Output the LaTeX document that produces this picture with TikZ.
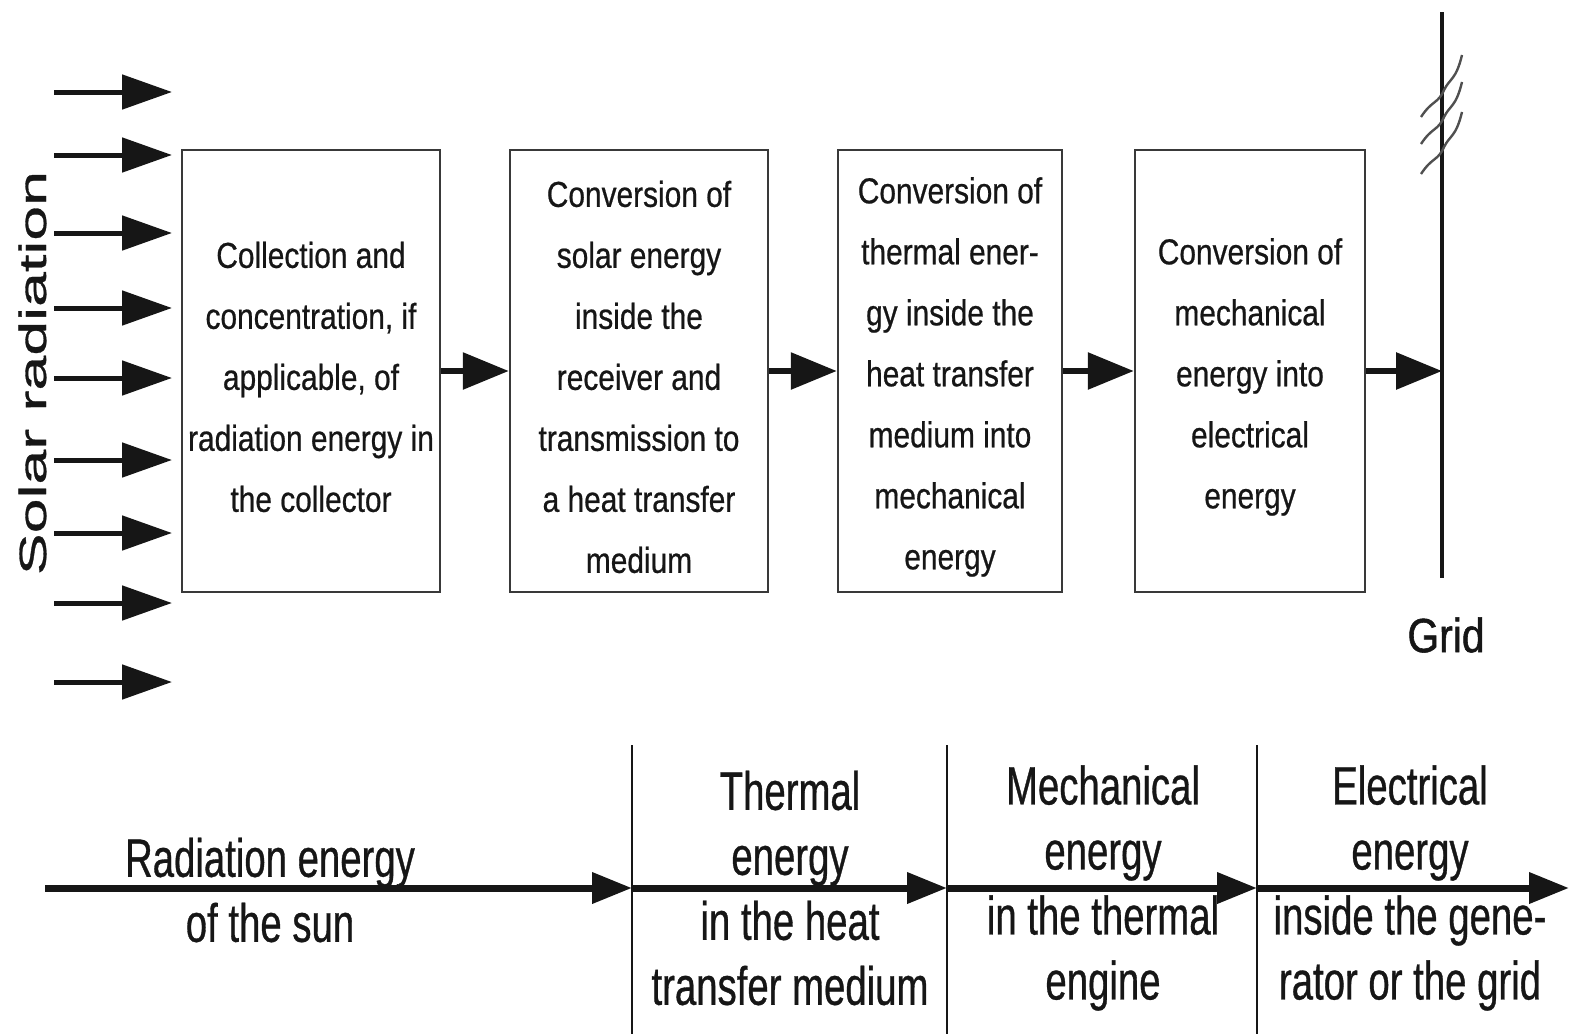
\documentclass[tikz,border=0pt]{standalone}
\usepackage{fontspec}
\setmainfont{Liberation Sans}
\newfontfamily\narrowA[FakeStretch=0.83,FakeBold=0.6]{Liberation Sans}
\newfontfamily\narrowB[FakeStretch=0.71,FakeBold=0.6]{Liberation Sans}
\newfontfamily\narrowG[FakeStretch=0.85,FakeBold=1.2]{Liberation Sans}
\newfontfamily\wideA[FakeStretch=1.65,FakeBold=0.8]{Liberation Sans}
\usetikzlibrary{arrows.meta}
\definecolor{ink}{RGB}{22,22,22}
\newcommand{\tstrut}{\rule{0pt}{38pt}}
\tikzset{
  box/.style={draw=ink!85, line width=2.5pt, inner sep=0pt, align=center, text=ink,
    minimum height=442pt, font=\narrowA\fontsize{36}{61}\selectfont},
  bigarr/.style={draw=ink, line width=6pt, -{Triangle[length=46pt,width=36pt]}},
  sarr/.style={draw=ink, line width=5pt, -{Triangle[length=50pt,width=34pt]}},
  barr/.style={draw=ink, line width=7pt, -{Triangle[length=40pt,width=30pt]}},
  divider/.style={draw=ink, line width=2pt},
  btext/.style={align=center, text=ink, inner sep=0pt, font=\narrowB\fontsize{54}{65}\selectfont},
}
\begin{document}
\begin{tikzpicture}[x=1pt,y=-1pt]
\useasboundingbox (0,0) rectangle (1569,1034);
% boxes
\node[box, minimum width=258pt] (b1) at (311,371) {\tstrut Collection and\\concentration, if\\applicable, of\\radiation energy in\\the collector};
\node[box, minimum width=258pt] (b2) at (639,371) {\tstrut Conversion of\\solar energy\\inside the\\receiver and\\transmission to\\a heat transfer\\medium};
\node[box, minimum width=224pt] (b3) at (950,371) {\tstrut Conversion of\\thermal ener-\\gy inside the\\heat transfer\\medium into\\mechanical\\energy};
\node[box, minimum width=230pt] (b4) at (1250,371) {\tstrut Conversion of\\mechanical\\energy into\\electrical\\energy};
% grid
\coordinate (gtop) at (1442,12);
\coordinate (gbot) at (1442,578);
\coordinate (gin) at (1442,371);
\draw[draw=ink, line width=4pt] (gtop) -- (gbot);
\foreach \h in {0,27,57} {
  \draw[draw=ink!75, line width=2.4pt] (1421,117+\h) .. controls (1432,100+\h) and (1438,104+\h) .. (1444,90+\h) .. controls (1450,78+\h) and (1456,80+\h) .. (1462,55+\h);
}
\node[text=ink, font=\narrowG\fontsize{48}{55}\selectfont] (grid) at (1446,635) {Grid};
% connectors
\draw[bigarr] (b1.east) -- (b2.west);
\draw[bigarr] (b2.east) -- (b3.west);
\draw[bigarr] (b3.east) -- (b4.west);
\draw[bigarr] (b4.east) -- (gin);
% solar radiation
\node[rotate=90, anchor=base, inner sep=0pt, text=ink, font=\wideA\fontsize{38}{44}\selectfont] (solar) at (46,373) {Solar radiation};
\foreach \y [count=\i] in {92,155,233,308,378,460,533,603,682} {
  \coordinate (sa\i) at (54,\y);
  \coordinate (sb\i) at (172,\y);
  \draw[sarr] (sa\i) -- (sb\i);
}
% bottom energy line
\coordinate (e0) at (45,888);
\coordinate (e1) at (632,888);
\coordinate (e2) at (947,888);
\coordinate (e3) at (1257,888);
\coordinate (e4) at (1569,888);
\draw[barr] (e0) -- (e1);
\draw[barr] (e1) -- (e2);
\draw[barr] (e2) -- (e3);
\draw[barr] (e3) -- (e4);
\coordinate (d1t) at (632,745); \coordinate (d1b) at (632,1034);
\coordinate (d2t) at (947,745); \coordinate (d2b) at (947,1034);
\coordinate (d3t) at (1257,745); \coordinate (d3b) at (1257,1034);
\draw[divider] (d1t) -- (d1b);
\draw[divider] (d2t) -- (d2b);
\draw[divider] (d3t) -- (d3b);
\node[btext] (rad) at (270,890) {Radiation energy\\of the sun};
\node[btext] (therm) at (790,888) {Thermal\\energy\\in the heat\\transfer medium};
\node[btext] (mech) at (1103,888) {Mechanical\\energy\\in the thermal\\engine};
\node[btext] (elec) at (1410,888) {Electrical\\energy\\inside the gene-\\rator or the grid};
\end{tikzpicture}
\end{document}
